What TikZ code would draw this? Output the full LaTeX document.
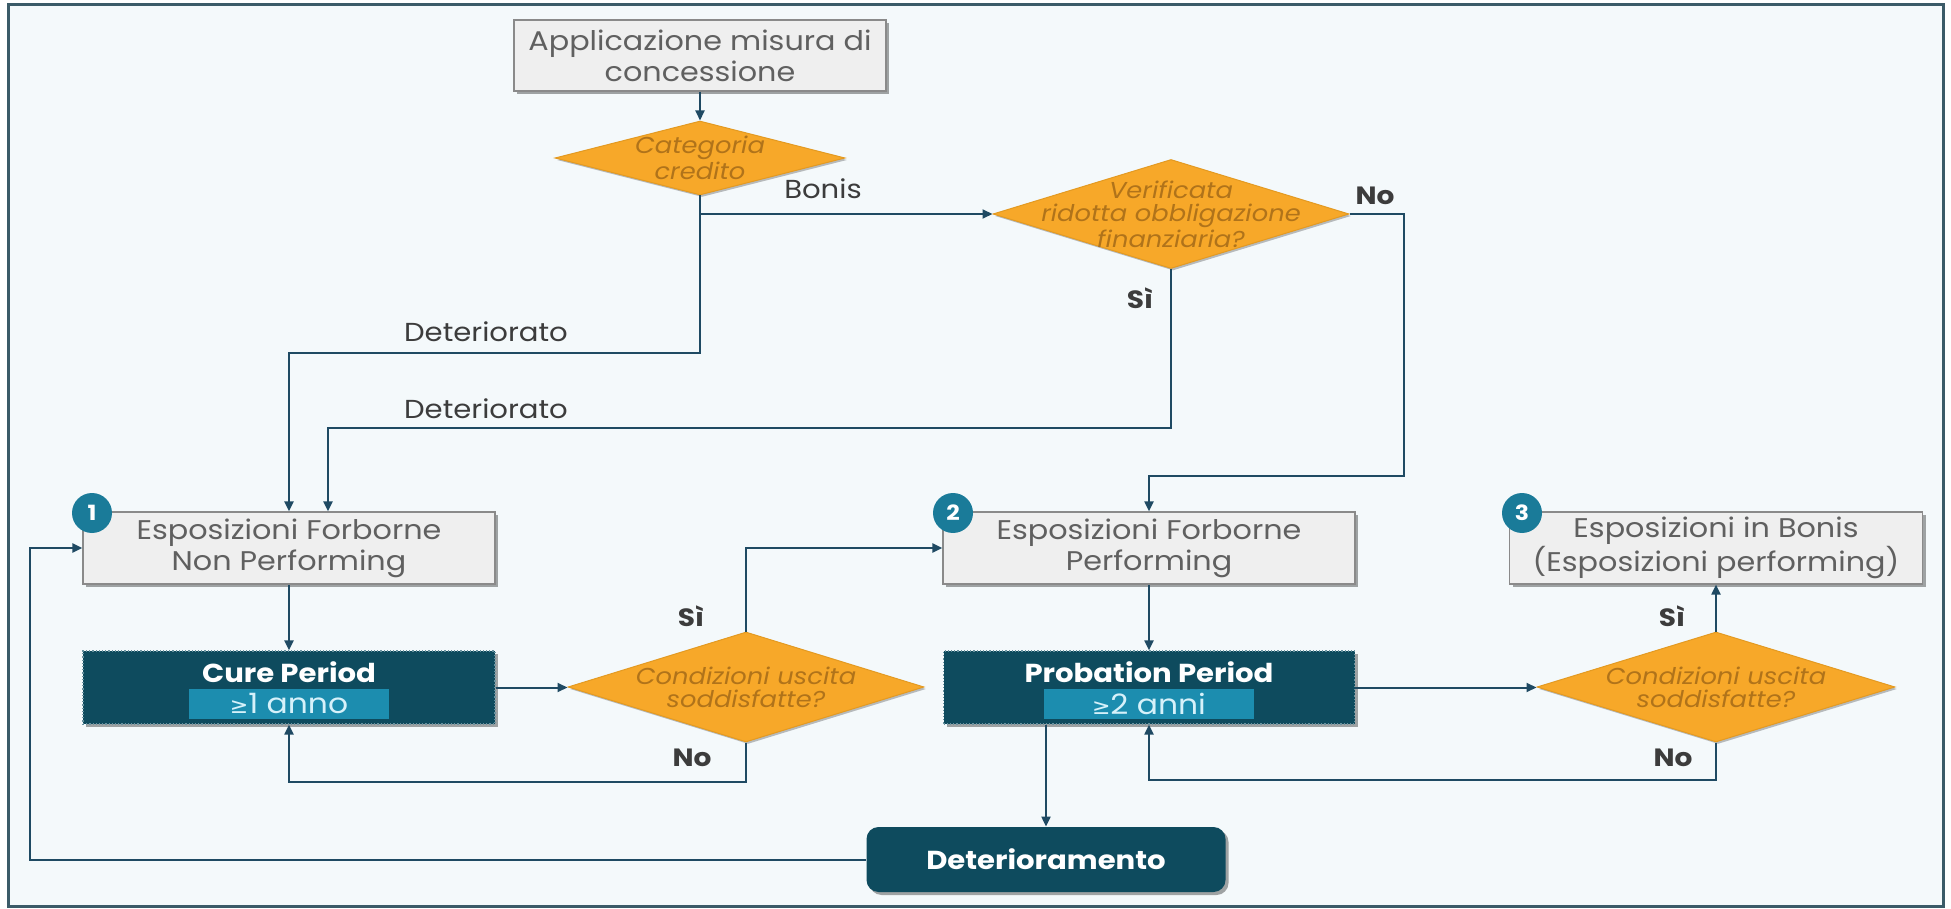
\documentclass[tikz,border=0pt]{standalone}
\usepackage{fontspec}
\setmainfont{Poppins}[FakeStretch=1.12]
\newfontfamily\symfont{DejaVu Sans}
\usetikzlibrary{arrows.meta,shapes.geometric,shadows,calc}
\definecolor{framec}{HTML}{3B5B68}
\definecolor{bgc}{HTML}{F4F9FB}
\definecolor{grayf}{HTML}{EFEFEF}
\definecolor{grayb}{HTML}{8A8A8A}
\definecolor{grayt}{HTML}{606060}
\definecolor{diaf}{HTML}{F7A829}
\definecolor{diab}{HTML}{E39A22}
\definecolor{diat}{HTML}{B0731A}
\definecolor{tealc}{HTML}{0E4B5E}
\definecolor{tealb}{HTML}{6A93A0}
\definecolor{subc}{HTML}{1C8DAF}
\definecolor{subt}{HTML}{D6F1FA}
\definecolor{circc}{HTML}{1A7B99}
\definecolor{arrc}{HTML}{1F4A63}
\definecolor{labc}{HTML}{3C3C3C}
\begin{document}
\begin{tikzpicture}[x=0.5pt,y=-0.5pt,
  graybox/.style={draw=grayb, fill=grayf, text=grayt, align=center, inner sep=0pt,
    line width=0.6pt, font=\fontsize{13.5}{15.5}\selectfont,
    drop shadow={shadow xshift=1.5pt, shadow yshift=-1.5pt, opacity=0.35, fill=black}},
  dia/.style={diamond, draw=diab, fill=diaf, inner sep=0pt, line width=0.5pt,
    drop shadow={shadow xshift=1pt, shadow yshift=-1pt, opacity=0.25, fill=black}},
  diatext/.style={text=diat, align=center, inner sep=0pt, font=\fontsize{11.5}{11.5}\selectfont\itshape},
  tealbox/.style={fill=tealc, draw=tealb, densely dotted, line width=0.6pt, inner sep=0pt,
    drop shadow={shadow xshift=1.5pt, shadow yshift=-1.5pt, opacity=0.35, fill=black}},
  tealtext/.style={text=white, inner sep=0pt, font=\fontsize{13}{15}\selectfont\bfseries},
  subbox/.style={fill=subc, text=subt, inner sep=0pt, font=\fontsize{14}{15}\selectfont},
  numc/.style={circle, fill=circc, text=white, inner sep=0pt, minimum size=20pt,
    font=\fontsize{10.5}{12}\selectfont\bfseries},
  arr/.style={draw=arrc, line width=1pt, -{Triangle[length=5pt,width=4.5pt]}},
  ln/.style={draw=arrc, line width=1pt},
  lab/.style={text=labc, inner sep=0pt, font=\fontsize{13}{15}\selectfont},
  blab/.style={text=labc, inner sep=0pt, font=\fontsize{12.5}{14}\selectfont\bfseries}
]
\useasboundingbox (0,0) rectangle (1951,909);
\draw[framec, line width=1.5pt, fill=bgc] (8,5) rectangle (1943,906);

% gray boxes
\node[graybox, minimum width=186pt, minimum height=35.5pt] (top) at (700,55.5) {Applicazione misura di\\concessione};
\node[graybox, minimum width=206pt, minimum height=36pt] (box1) at (289,548) {Esposizioni Forborne\\Non Performing};
\node[graybox, minimum width=206pt, minimum height=36pt] (box2) at (1149,548) {Esposizioni Forborne\\Performing};
\node[graybox, minimum width=206.5pt, minimum height=36pt] (box3) at (1716,548) {Esposizioni in Bonis\\(Esposizioni performing)};

% number circles
\node[numc] (n1) at (92,513) {1};
\node[numc] (n2) at (953,513) {2};
\node[numc] (n3) at (1522,513) {3};

% diamonds
\node[dia, minimum width=145pt, minimum height=37pt] (cat) at (700,158) {};
\node[diatext] (catt) at (cat.center) {Categoria\\credito};
\node[dia, minimum width=178pt, minimum height=54.5pt] (ver) at (1171,214) {};
\node[diatext] (vert) at (ver.center) {Verificata\\ridotta obbligazione\\finanziaria?};
\node[dia, minimum width=178pt, minimum height=55pt] (cond1) at (746,687) {};
\node[diatext] (cond1t) at (cond1.center) {Condizioni uscita\\soddisfatte?};
\node[dia, minimum width=179pt, minimum height=55pt] (cond2) at (1716,687) {};
\node[diatext] (cond2t) at (cond2.center) {Condizioni uscita\\soddisfatte?};

% teal boxes
\node[tealbox, minimum width=206pt, minimum height=36.5pt] (cure) at (289,687.5) {};
\node[tealtext] (curet) at (289,672) {Cure Period};
\node[subbox, minimum width=100pt, minimum height=15pt] (cures) at (289,704) {{\symfont\fontsize{11}{12}\selectfont ≥}1 anno};
\node[tealbox, minimum width=205.5pt, minimum height=36.5pt] (prob) at (1149,687.5) {};
\node[tealtext] (probt) at (1149,672) {Probation Period};
\node[subbox, minimum width=105pt, minimum height=15pt] (probs) at (1149,704) {{\symfont\fontsize{11}{12}\selectfont ≥}2 anni};
\node[fill=tealc, rounded corners=6pt, minimum width=179.5pt, minimum height=32.5pt, tealtext,
  drop shadow={shadow xshift=1.5pt, shadow yshift=-1.5pt, opacity=0.35, fill=black}] (det) at (1046,859.5) {Deterioramento};

% connectors
\draw[arr] (top.south) -- (cat.north);
\coordinate (bj) at (cat.south |- ver.west);
\draw[ln] (cat.south) -- (bj);
\draw[arr] (bj) -- (ver.west);
\coordinate (d1) at (700,353);
\draw[arr] (bj) -- (d1) -| (box1.north);
\coordinate (d2) at (1171,428);
\draw[arr] (ver.south) -- (d2) -| ($(box1.north)+(39,0)$);
\coordinate (nn) at (1404,476);
\draw[arr] (ver.east) -| (nn) -| (box2.north);

\draw[arr] (box1.south) -- (cure.north);
\draw[arr] (cure.east) -- (cure.east -| cond1.west);
\draw[arr] (cond1.north) |- (box2.west);
\coordinate (c1) at ($(cond1.south)+(0,39)$);
\draw[arr] (cond1.south) -- (c1) -| (cure.south);

\draw[arr] (box2.south) -- (prob.north);
\draw[arr] (prob.east) -- (prob.east -| cond2.west);
\draw[arr] (cond2.north) -- (box3.south);
\coordinate (c2) at ($(cond2.south)+(0,37)$);
\draw[arr] (cond2.south) -- (c2) -| (prob.south);

\draw[arr] (prob.south -| det.north) -- (det.north);
\coordinate (l1) at (30,859.5);
\draw[arr] (det.west) -- (l1) |- (box1.west);

% labels
\node[lab] (lbonis) at (823,189) {Bonis};
\node[lab] (ldet1) at (486,332) {Deteriorato};
\node[lab] (ldet2) at (486,409) {Deteriorato};
\node[blab] (lno1) at (1375,196) {No};
\node[blab] (lsi1) at (1140,298) {Sì};
\node[blab] (lsi2) at (691,616) {Sì};
\node[blab] (lno2) at (692,758) {No};
\node[blab] (lsi3) at (1672,616) {Sì};
\node[blab] (lno3) at (1673,758) {No};
\end{tikzpicture}
\end{document}
